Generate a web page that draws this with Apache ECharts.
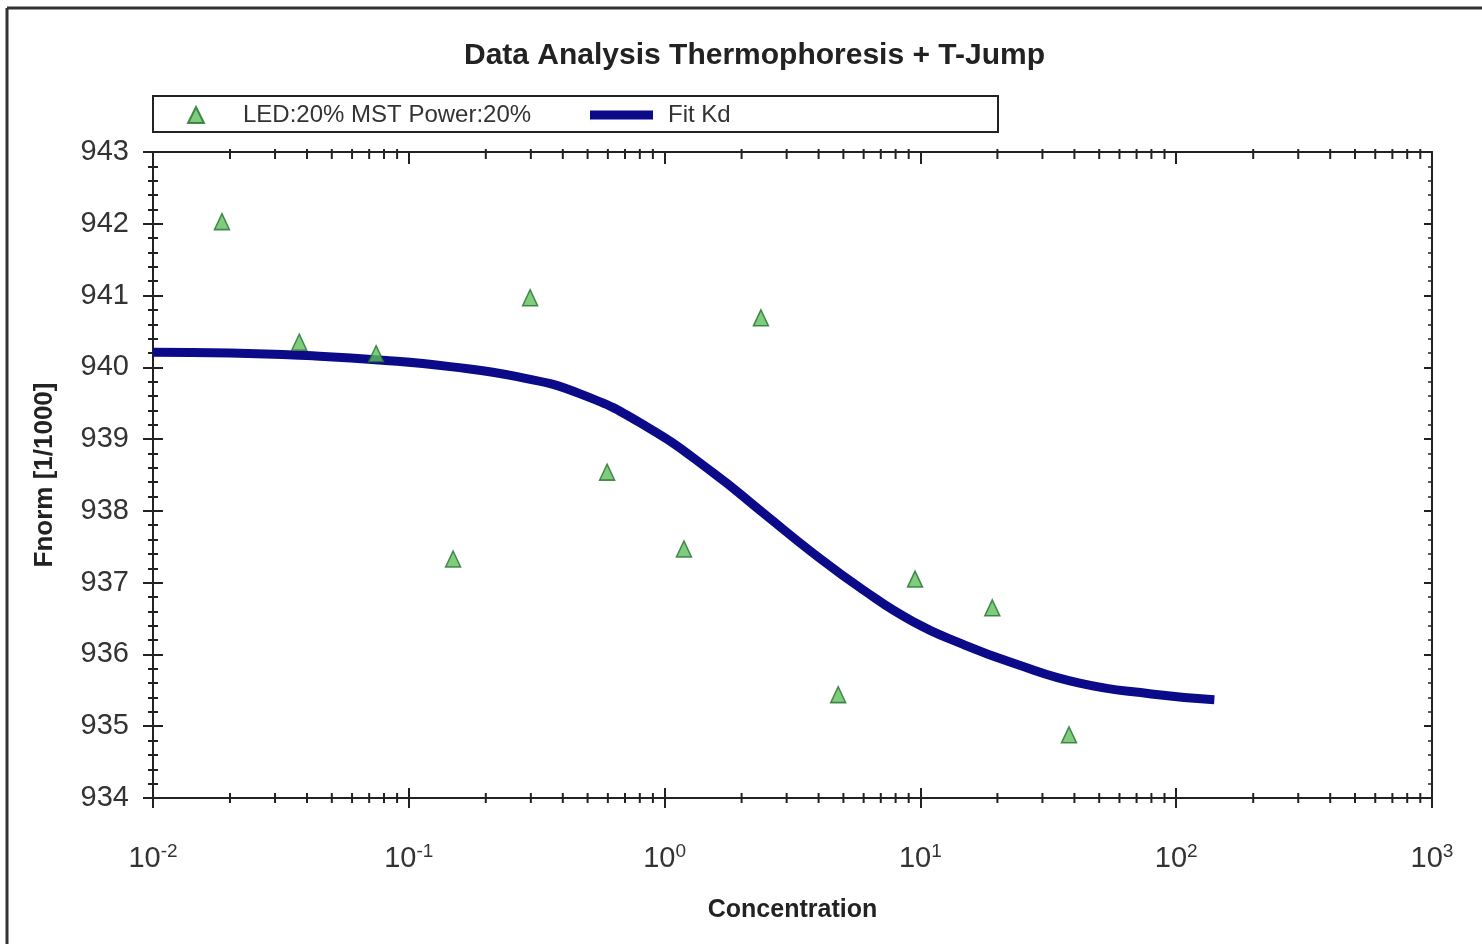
<!DOCTYPE html>
<html>
<head>
<meta charset="utf-8">
<title>Data Analysis Thermophoresis + T-Jump</title>
<script src="https://cdn.jsdelivr.net/npm/echarts@6/dist/echarts.min.js"></script>
<style>
  html, body { margin: 0; padding: 0; background: #fff; }
  #chart { width: 1482px; height: 944px; }
</style>
</head>
<body>
<div id="chart"></div>
<script>
// measured points (concentration, Fnorm)
const conc = [0.0186, 0.0373, 0.0745, 0.149, 0.298, 0.596, 1.19, 2.38, 4.77, 9.53, 19.1, 38.1];
const fnorm = [942.03, 940.35, 940.19, 937.33, 940.97, 938.54, 937.47, 940.69, 935.44, 937.05, 936.65, 934.88];

// fit curve
const fitConc = [0.01, 0.02, 0.042, 0.079, 0.145, 0.265, 0.468, 0.853, 1.55, 2.43, 3.81, 5.97, 9.34, 14.7, 23.0, 41.9, 80, 141];
const fitFnorm = [940.21, 940.2, 940.16, 940.1, 940.01, 939.87, 939.63, 939.17, 938.53, 937.97, 937.41, 936.9, 936.46, 936.14, 935.88, 935.6, 935.45, 935.37];

// axis ticks
const decades = [0.01, 0.1, 1, 10, 100];
const minorSteps = [2, 3, 4, 5, 6, 7, 8, 9];
const yMin = 934;
const yMax = 943;

const minorX = [];
decades.forEach(d => minorSteps.forEach(m => minorX.push(+(d * m).toPrecision(3))));

const chart = echarts.init(document.getElementById('chart'));
const txt = '#333';
const font = 'Liberation Sans, Arial, sans-serif';

const option = {
  backgroundColor: '#fff',
  animation: false,
  textStyle: { fontFamily: font },
  title: {
    text: 'Data Analysis Thermophoresis + T-Jump',
    left: 459,
    top: 36,
    textStyle: { fontSize: 30, fontWeight: 'bold', color: '#222', fontFamily: font }
  },
  legend: [
    {
      left: 182, top: 98,
      itemWidth: 16, itemHeight: 16,
      data: [{ name: 'LED:20% MST Power:20%', icon: 'triangle' }],
      textStyle: { fontSize: 24, color: txt, padding: [0, 0, 0, 34] }
    },
    {
      left: 585, top: 98,
      itemWidth: 63, itemHeight: 9,
      data: [{ name: 'Fit Kd', icon: 'rect' }],
      textStyle: { fontSize: 24, color: txt, padding: [0, 0, 0, 10] }
    }
  ],
  graphic: [
    // legend frame
    { type: 'rect', shape: { x: 153, y: 96, width: 845, height: 36 }, style: { fill: 'none', stroke: '#222', lineWidth: 2 } },
    // outer frame (top / left)
    { type: 'line', shape: { x1: 7, y1: 8, x2: 1482, y2: 8 }, style: { stroke: '#333', lineWidth: 3 } },
    { type: 'line', shape: { x1: 7, y1: 8, x2: 7, y2: 944 }, style: { stroke: '#333', lineWidth: 3 } }
  ],
  grid: { left: 153, right: 50, top: 152, bottom: 146 },
  xAxis: [
    {
      type: 'log', logBase: 10, min: 0.01, max: 1000, position: 'bottom',
      name: 'Concentration', nameLocation: 'middle', nameGap: 100,
      nameTextStyle: { fontSize: 25, fontWeight: 'bold', color: '#222' },
      axisLine: { lineStyle: { color: '#222', width: 2 } },
      axisTick: { length: 10, lineStyle: { color: '#222', width: 2 } },
      splitLine: { show: false },
      axisLabel: {
        margin: 44,
        formatter: v => '{b|10}{s|' + Math.round(Math.log10(v)) + '}',
        rich: {
          b: { fontSize: 29, color: txt, lineHeight: 34 },
          s: { fontSize: 19, color: txt, verticalAlign: 'top', lineHeight: 18 }
        }
      }
    },
    {
      type: 'log', logBase: 10, min: 0.01, max: 1000, position: 'bottom',
      axisLine: { show: false },
      axisTick: { inside: true, length: 10, lineStyle: { color: '#222', width: 2 } },
      axisLabel: { show: false }, splitLine: { show: false }
    },
    {
      type: 'log', logBase: 10, min: 0.01, max: 1000, position: 'top',
      axisLine: { lineStyle: { color: '#222', width: 2 } },
      axisTick: { inside: true, length: 12, lineStyle: { color: '#222', width: 2 } },
      axisLabel: { show: false }, splitLine: { show: false }
    }
  ],
  yAxis: [
    {
      type: 'value', min: yMin, max: yMax, interval: 1, position: 'left',
      name: 'Fnorm [1/1000]', nameLocation: 'middle', nameGap: 95, nameRotate: 90,
      nameTextStyle: { fontSize: 26, fontWeight: 'bold', color: '#222' },
      axisLine: { show: true, lineStyle: { color: '#222', width: 2 } },
      axisTick: { length: 10, lineStyle: { color: '#222', width: 2 } },
      minorTick: { show: true, splitNumber: 5, length: 5, lineStyle: { color: '#222', width: 2 } },
      splitLine: { show: false },
      axisLabel: { margin: 24, fontSize: 29, color: txt }
    },
    {
      type: 'value', min: yMin, max: yMax, interval: 1, position: 'left',
      axisLine: { show: false },
      axisTick: { inside: true, length: 10, lineStyle: { color: '#222', width: 2 } },
      minorTick: { show: true, splitNumber: 5, length: 5, lineStyle: { color: '#222', width: 2 } },
      axisLabel: { show: false }, splitLine: { show: false }
    },
    {
      type: 'value', min: yMin, max: yMax, interval: 1, position: 'right',
      axisLine: { show: true, lineStyle: { color: '#222', width: 2 } },
      axisTick: { inside: true, length: 8, lineStyle: { color: '#222', width: 2 } },
      minorTick: { show: true, splitNumber: 5, length: 4, lineStyle: { color: '#222', width: 1.5 } },
      axisLabel: { show: false }, splitLine: { show: false }
    }
  ],
  series: [
    {
      // minor ticks of the log axis (2..9 in each decade)
      type: 'custom',
      silent: true,
      clip: false,
      z: 5,
      data: minorX.map(v => [v]),
      renderItem: (params, api) => {
        const b = api.coord([api.value(0), yMin]);
        const t = api.coord([api.value(0), yMax]);
        const st = { stroke: '#222', lineWidth: 2 };
        return {
          type: 'group',
          children: [
            { type: 'line', shape: { x1: b[0], y1: b[1] - 5, x2: b[0], y2: b[1] + 5 }, style: st },
            { type: 'line', shape: { x1: t[0], y1: t[1] - 3, x2: t[0], y2: t[1] + 7 }, style: st }
          ]
        };
      }
    },
    {
      name: 'Fit Kd',
      type: 'line',
      smooth: true,
      showSymbol: false,
      z: 3,
      data: fitConc.map((c, i) => [c, fitFnorm[i]]),
      itemStyle: { color: '#0b0b8a' },
      lineStyle: { color: '#0b0b8a', width: 9, cap: 'butt' }
    },
    {
      name: 'LED:20% MST Power:20%',
      type: 'scatter',
      symbol: 'triangle',
      symbolSize: [15, 16],
      z: 4,
      data: conc.map((c, i) => [c, fnorm[i]]),
      itemStyle: { color: '#5fbf5f', borderColor: '#22702a', borderWidth: 1.5 }
    }
  ]
};

chart.setOption(option);
window.addEventListener('resize', () => { chart.resize(); });
</script>
</body>
</html>
